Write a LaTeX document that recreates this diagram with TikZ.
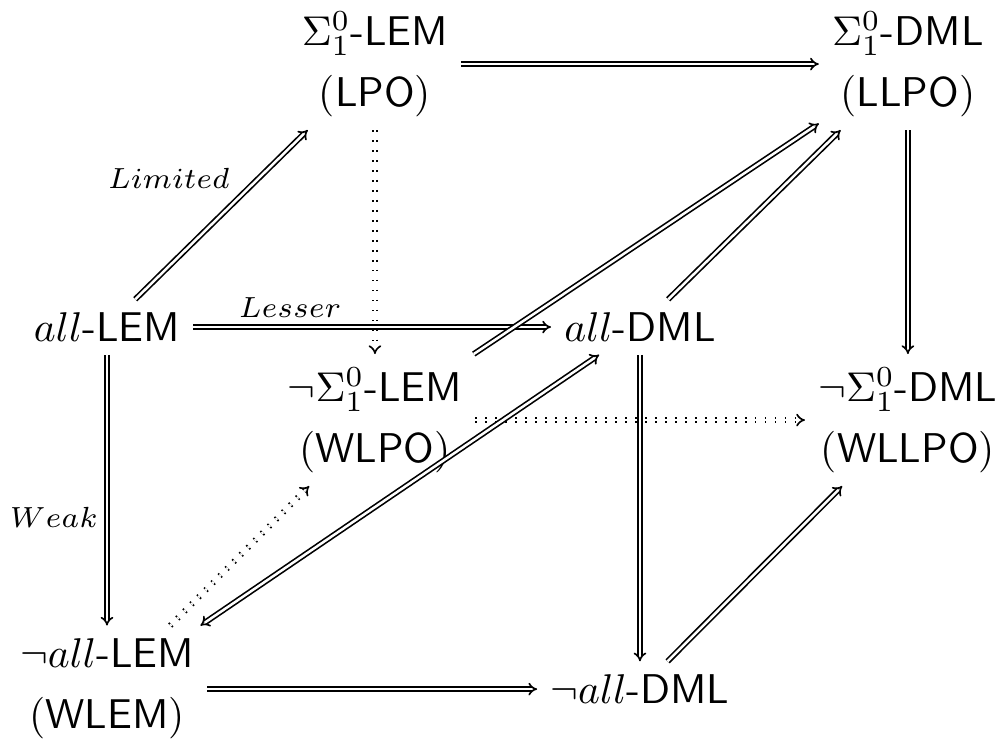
\documentclass[tikz,border=0pt]{standalone}
\usepackage{amsmath}
\usepackage{amssymb}
\usepackage{tikz}
\usetikzlibrary{arrows.meta}
\tikzstyle{principle} = [align=center, inner sep=3pt, font=\fontsize{10}{14.7}\selectfont]
\tikzstyle{impl} = [draw, double, -{Implies}]
\tikzstyle{equiv} = [draw, double, {Implies}-{Implies}]
\tikzstyle{weakimpl} = [draw, double, dotted, -{Implies}]
\tikzstyle{tag} = [font=\scriptsize, inner sep=2pt]

\begin{document}
\begin{tikzpicture}[node distance = 4.503cm, auto]
    \useasboundingbox (0,0) rectangle (8.50,-6.244);
    % front face
    \node [principle] at (0.904,-2.763) (allLEM) {$all$\textsf{-LEM}};
    \node [principle, right of=allLEM] (allDML) {$all$\textsf{-DML}};
    \node [principle, below of=allLEM, node distance=3.059cm] (nallLEM) {$\neg all$\textsf{-LEM}\\(\textsf{WLEM})};
    \node [principle, right of=nallLEM] (nallDML) {$\neg all$\textsf{-DML}};
    % back face
    \node [principle] at (3.168,-0.541) (sLEM) {$\Sigma^0_1$\textsf{-LEM}\\(\textsf{LPO})};
    \node [principle, right of=sLEM] (sDML) {$\Sigma^0_1$\textsf{-DML}\\(\textsf{LLPO})};
    \node [principle, below of=sLEM, node distance=3.008cm] (nsLEM) {$\neg\Sigma^0_1$\textsf{-LEM}\\(\textsf{WLPO})};
    \node [principle, right of=nsLEM] (nsDML) {$\neg\Sigma^0_1$\textsf{-DML}\\(\textsf{WLLPO})};
    % edges
    \path [impl] (sLEM) -- (sDML);
    \path [impl] (sDML) -- (nsDML);
    \path [weakimpl] (sLEM) -- (nsLEM);
    \path [weakimpl] (nsLEM) -- (nsDML);
    \path [impl] (allLEM) -- node [tag, above left, pos=0.6] {$Limited$} (sLEM);
    \path [impl] (allLEM) -- node [tag, above, pos=0.27] {$Lesser$} (allDML);
    \path [impl] (allLEM) -- node [tag, left, pos=0.6] {$Weak$} (nallLEM);
    \path [impl] (allDML) -- (sDML);
    \path [impl] (nsLEM) -- (sDML);
    \path [impl] (allDML) -- (nallDML);
    \path [equiv] (nallLEM) -- (allDML);
    \path [weakimpl] (nallLEM) -- (nsLEM);
    \path [impl] (nallLEM) -- (nallDML);
    \path [impl] (nallDML) -- (nsDML);
\end{tikzpicture}
\end{document}
